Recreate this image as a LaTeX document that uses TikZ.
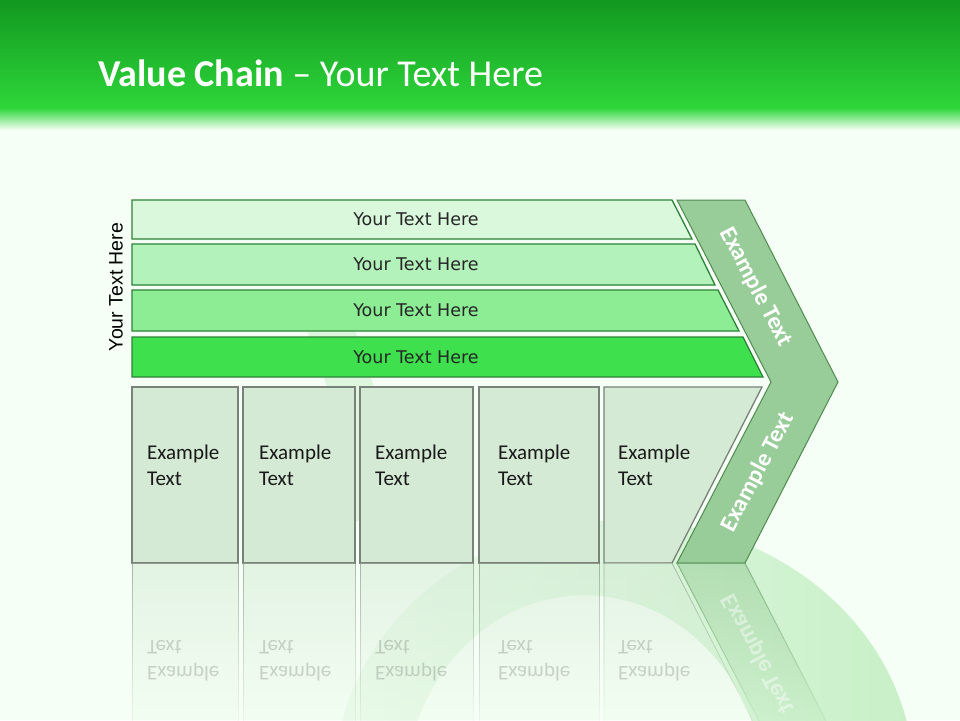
\documentclass[tikz,border=0pt]{standalone}
\usepackage{fontspec}
\setmainfont{Carlito}
\newfontfamily\bartextfont{DejaVu Sans}
\newfontfamily\sidefont{Liberation Sans}
\usetikzlibrary{fadings, positioning}
\definecolor{HeadTop}{RGB}{18,152,32}
\definecolor{HeadMid}{RGB}{46,214,58}
\definecolor{PageBg}{RGB}{245,255,245}
\definecolor{BarA}{RGB}{217,248,220}
\definecolor{BarB}{RGB}{179,242,187}
\definecolor{BarC}{RGB}{141,237,149}
\definecolor{BarD}{RGB}{62,224,78}
\definecolor{BarLine}{RGB}{46,130,56}
\definecolor{BoxFill}{RGB}{212,234,213}
\definecolor{BoxLine}{RGB}{120,130,120}
\definecolor{ChevFill}{RGB}{152,204,152}
\definecolor{ChevLine}{RGB}{80,140,80}
\definecolor{RingGreen}{RGB}{200,240,200}
\tikzfading[name=reflfade, top color=transparent!45, bottom color=transparent!100]
\tikzfading[name=ringfade, left color=transparent!80, right color=transparent!0]
\tikzset{
    barshape/.style={
        draw=BarLine, line width=1.3
    },
    boxshape/.style={
        draw=BoxLine, line width=1.3, fill=BoxFill
    },
    chevshape/.style={
        draw=ChevLine, line width=1, fill=ChevFill
    },
    reflshape/.style={
        path fading=reflfade, fit fading=true
    },
    bartext/.style={
        font=\bartextfont\fontsize{17.5}{21}\selectfont, text=black!85
    },
    boxtext/.style={
        font=\fontsize{21}{26}\selectfont, align=left, anchor=west, inner sep=0pt, text=black!90
    },
    chevtext/.style={
        font=\bfseries\fontsize{24}{28}\selectfont, text=white, inner sep=0pt
    }
}

\begin{document}
\begin{tikzpicture}[x=1pt, y=-1pt]
    \useasboundingbox (0,0) rectangle (960,720);
    \clip (0,0) rectangle (960,720);
    % --- background and header ---
    \fill[PageBg] (0,0) rectangle (960,720);
    \fill[RingGreen, even odd rule, path fading=ringfade, fit fading=true] (625,780) ellipse [x radius=290, y radius=260]
        (585,795) ellipse [x radius=180, y radius=200];
    \draw[RingGreen!60, line width=45] (318,300) .. controls (345,360) and (365,420) .. (372,520);
    \shade[top color=HeadTop, bottom color=HeadMid] (0,0) rectangle (960,108);
    \shade[top color=HeadMid, bottom color=PageBg] (0,108) rectangle (960,130);
    \node[anchor=base west, inner sep=0pt, text=white, font=\fontsize{38}{42}\selectfont] (title) at (98,86)
        {\textbf{Value Chain} – Your Text Here};

    % --- support activities ---
    \foreach \ya/\yb/\xa/\xb/\c [count=\i] in {200/239/672/692/BarA, 244/285/695/715/BarB,
        290/331/718/739/BarC, 337/377/743/763/BarD} {
        \draw[barshape, fill=\c] (132,\ya) -- (\xa,\ya) -- (\xb,\yb) -- (132,\yb) -- cycle;
        \node[bartext] (bartxt\i) at (416,{(\ya+\yb)/2}) {Your Text Here};
    }
    \node[rotate=90, font=\sidefont\fontsize{19.5}{23}\selectfont] (side) at (116,287) {Your Text Here};

    % --- primary activities ---
    \foreach \xa/\xb/\tx [count=\i] in {132/238/147, 243/355/259, 360/473/375, 479/599/498} {
        \draw[boxshape] (\xa,387) rectangle (\xb,563);
        \node[boxtext] (boxtxt\i) at (\tx,465) {Example\\Text};
    }
    \draw[boxshape] (604,387) -- (762,387) -- (672,563) -- (604,563) -- cycle;
    \node[boxtext] (boxtxt5) at (618,465) {Example\\Text};

    % --- margin chevron ---
    \draw[chevshape] (677,200) -- (745,200) -- (838,382) -- (745,563) -- (677,563) -- (771,382) -- cycle;
    \node[chevtext, rotate=-62.4] (chevup) at (756,287) {Example Text};
    \node[chevtext, rotate=62.4] (chevdown) at (758,472) {Example Text};

    % --- reflection ---
    \foreach \xa/\xb in {132/238, 243/355, 360/473, 479/599} {
        \draw[boxshape, reflshape, line width=0.8] (\xa,563) rectangle (\xb,739);
    }
    \draw[boxshape, reflshape, line width=0.8] (604,563) -- (672,563) -- (762,739) -- (604,739) -- cycle;
    \draw[chevshape, reflshape] (677,563) -- (745,563) -- (838,744) -- (771,744) -- cycle;
    \begin{scope}[shift={(0,563)}, yscale=-1, shift={(0,-563)}]
        \foreach \tx [count=\i] in {147, 259, 375, 498, 618} {
            \node[boxtext, transform shape, opacity=0.18] (reflbox\i) at (\tx,465) {Example\\Text};
        }
        \node[chevtext, rotate=62.4, transform shape, opacity=0.45] (reflchev) at (758,472) {Example Text};
    \end{scope}
\end{tikzpicture}
\end{document}
